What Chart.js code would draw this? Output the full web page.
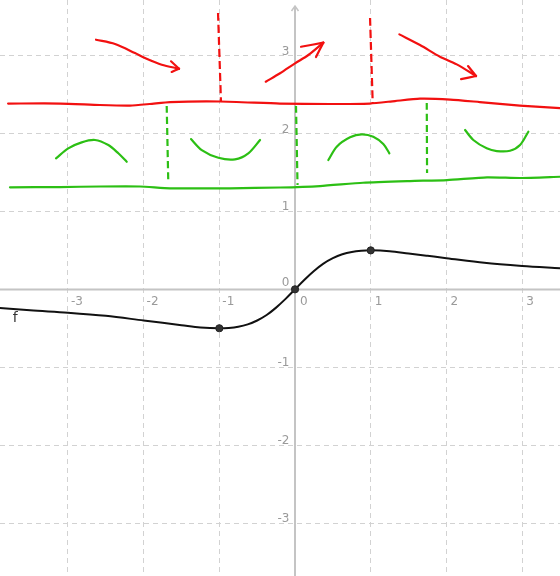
<!DOCTYPE html>
<html>
<head>
<meta charset="utf-8">
<script src="https://cdn.jsdelivr.net/npm/chart.js@4"></script>
<style>
  html, body { margin: 0; padding: 0; background: #fff; }
  canvas { display: block; }
</style>
</head>
<body>
<canvas id="chart-f" width="560" height="576"></canvas>
<script>
// view window (graph units)
const X_MIN = -3.897, X_MAX = 3.50;
const Y_MIN = -3.68,  Y_MAX = 3.714;

const X_TICKS = [-3, -2, -1, 0, 1, 2, 3];
const Y_TICKS = [-3, -2, -1, 0, 1, 2, 3];

// f
const F_X = [-3.9, -3.5, -3, -2.5, -2, -1.75, -1.5, -1.25, -1, -0.875, -0.75, -0.625, -0.5, -0.375, -0.25, -0.125, 0, 0.125, 0.25, 0.375, 0.5, 0.625, 0.75, 0.875, 1, 1.25, 1.5, 1.75, 2, 2.5, 3, 3.5];
const F_Y = [-0.24, -0.27, -0.30, -0.34, -0.40, -0.43, -0.46, -0.49, -0.50, -0.495, -0.48, -0.45, -0.40, -0.33, -0.235, -0.123, 0, 0.123, 0.235, 0.33, 0.40, 0.45, 0.48, 0.495, 0.50, 0.49, 0.46, 0.43, 0.40, 0.34, 0.30, 0.27];

// marked points on f
const MARK_X = [-1, 0, 1];
const MARK_Y = [-0.5, 0, 0.5];

// hand drawn strokes, [x, y] in graph units
const redBase = [[-3.79, 2.385], [-3.10, 2.385], [-2.58, 2.366], [-2.18, 2.359], [-1.92, 2.379], [-1.65, 2.404], [-0.99, 2.411], [-0.20, 2.385], [0.46, 2.379], [0.99, 2.385], [1.32, 2.417], [1.65, 2.447], [2.05, 2.436], [2.44, 2.404], [2.97, 2.359], [3.50, 2.327]];
const redDash1 = [[-1.017, 3.547], [-0.978, 2.404]];
const redDash2 = [[0.991, 3.483], [1.026, 2.392]];
const redArrow1 = [[-2.629, 3.204], [-2.378, 3.149], [-2.114, 3.033], [-1.982, 2.969], [-1.761, 2.883], [-1.532, 2.832]];
const redArrow1Head = [[[-1.638, 2.927], [-1.532, 2.832]], [[-1.629, 2.790], [-1.532, 2.832]]];
const redArrow2 = [[-0.387, 2.665], [-0.198, 2.773], [0, 2.901], [0.176, 3.008], [0.374, 3.166]];
const redArrow2Head = [[[0.079, 3.114], [0.374, 3.166]], [[0.277, 2.982], [0.374, 3.166]]];
const redArrow3 = [[1.378, 3.273], [1.651, 3.136], [1.915, 2.986], [2.136, 2.888], [2.391, 2.738]];
const redArrow3Head = [[[2.285, 2.866], [2.391, 2.738]], [[2.193, 2.699], [2.391, 2.738]]];

const greenBase = [[-3.765, 1.309], [-3.104, 1.313], [-2.576, 1.320], [-2.048, 1.320], [-1.651, 1.297], [-0.859, 1.297], [-0.198, 1.307], [0.330, 1.326], [0.898, 1.368], [1.519, 1.390], [2.008, 1.403], [2.536, 1.438], [2.972, 1.429], [3.501, 1.445]];
const greenDash1 = [[-1.695, 2.353], [-1.674, 1.365]];
const greenDash2 = [[0.013, 2.353], [0.033, 1.339]];
const greenDash3 = [[1.740, 2.392], [1.744, 1.493]];
const greenArc1 = [[-3.157, 1.682], [-2.995, 1.810], [-2.818, 1.887], [-2.642, 1.917], [-2.466, 1.852], [-2.334, 1.746], [-2.223, 1.638]];
const greenArc2 = [[-1.374, 1.929], [-1.232, 1.788], [-1.013, 1.689], [-0.793, 1.669], [-0.617, 1.746], [-0.462, 1.917]];
const greenArc3 = [[0.440, 1.660], [0.551, 1.831], [0.727, 1.951], [0.881, 1.990], [1.034, 1.959], [1.166, 1.865], [1.246, 1.746]];
const greenArc4 = [[2.246, 2.045], [2.355, 1.917], [2.532, 1.810], [2.665, 1.775], [2.840, 1.779], [2.972, 1.852], [3.082, 2.023]];

const F_LABEL = { text: 'f', x: -3.73, y: -0.415 };

const RED   = '#f21010';
const GREEN = '#2cbf14';
const GRID_COLOR  = '#d2d2d2';
const AXIS_COLOR  = '#c4c4c4';
const LABEL_COLOR = '#9a9a9a';

function pts(arr) { return arr.map(p => ({ x: p[0], y: p[1] })); }

function stroke(arr, color, opts = {}) {
  return {
    data: pts(arr),
    borderColor: color,
    borderWidth: opts.width || 2.2,
    borderDash: opts.dash || [],
    borderCapStyle: opts.dash ? 'butt' : 'round',
    borderJoinStyle: 'round',
    tension: opts.tension !== undefined ? opts.tension : 0.3,
    pointRadius: 0,
    fill: false,
  };
}

const geoAxes = {
  id: 'geoAxes',
  beforeDatasetsDraw(chart) {
    const { ctx, scales: { x, y } } = chart;
    const x0 = Math.round(x.getPixelForValue(0));
    const y0 = Math.round(y.getPixelForValue(0)) + 0.5;
    ctx.save();
    ctx.strokeStyle = AXIS_COLOR;
    ctx.lineWidth = 2;
    ctx.beginPath();
    ctx.moveTo(x.left, y0);   ctx.lineTo(x.right, y0);
    ctx.moveTo(x0, y.bottom); ctx.lineTo(x0, y.top + 7);
    ctx.stroke();
    ctx.lineWidth = 1.5;
    ctx.beginPath();
    ctx.moveTo(x0 - 3.5, y.top + 11); ctx.lineTo(x0, y.top + 6); ctx.lineTo(x0 + 3.5, y.top + 11);
    ctx.stroke();

    ctx.font = '12px "DejaVu Sans"';
    ctx.fillStyle = LABEL_COLOR;
    ctx.textBaseline = 'alphabetic';
    ctx.textAlign = 'left';
    X_TICKS.forEach(v => {
      const dx = v < 0 ? 3 : v === 0 ? 5 : 4;
      ctx.fillText(String(v), x.getPixelForValue(v) + dx, y0 + 15.5);
    });
    ctx.textAlign = 'right';
    Y_TICKS.forEach(v => {
      const dy = v === 0 ? 3 : 1;
      ctx.fillText(String(v), x0 - 5.5, y.getPixelForValue(v) - dy);
    });

    ctx.font = '14px "DejaVu Sans"';
    ctx.fillStyle = '#333';
    ctx.textAlign = 'left';
    ctx.fillText(F_LABEL.text, x.getPixelForValue(F_LABEL.x), y.getPixelForValue(F_LABEL.y));
    ctx.restore();
  },
};

const gridScale = (min, max) => ({
  type: 'linear', min, max,
  ticks: { display: false, stepSize: 1, includeBounds: false },
  grid: {
    drawTicks: false,
    lineWidth: 1,
    color: c => (c.tick && c.tick.value === 0 ? 'rgba(0,0,0,0)' : GRID_COLOR),
  },
  border: { display: false, dash: [5, 4] },
});

const datasets = [
  {
    data: MARK_X.map((v, i) => ({ x: v, y: MARK_Y[i] })),
    showLine: false,
    pointRadius: 3.6,
    pointBackgroundColor: '#333',
    pointBorderColor: '#222',
    pointBorderWidth: 1,
  },
  {
    data: F_X.map((v, i) => ({ x: v, y: F_Y[i] })),
    borderColor: '#111',
    borderWidth: 2,
    cubicInterpolationMode: 'monotone',
    pointRadius: 0,
    fill: false,
  },
  stroke(redBase, RED, { tension: 0.2 }),
  stroke(redDash1, RED, { dash: [8, 4] }),
  stroke(redDash2, RED, { dash: [8, 4] }),
  stroke(redArrow1, RED),
  ...redArrow1Head.map(h => stroke(h, RED)),
  stroke(redArrow2, RED),
  ...redArrow2Head.map(h => stroke(h, RED)),
  stroke(redArrow3, RED),
  ...redArrow3Head.map(h => stroke(h, RED)),
  stroke(greenBase, GREEN, { tension: 0.2 }),
  stroke(greenDash1, GREEN, { dash: [7, 4] }),
  stroke(greenDash2, GREEN, { dash: [7, 4] }),
  stroke(greenDash3, GREEN, { dash: [7, 4] }),
  stroke(greenArc1, GREEN),
  stroke(greenArc2, GREEN),
  stroke(greenArc3, GREEN),
  stroke(greenArc4, GREEN),
];

new Chart(document.getElementById('chart-f').getContext('2d'), {
  type: 'line',
  data: { datasets },
  options: {
    responsive: false,
    animation: false,
    layout: { padding: 0, autoPadding: false },
    plugins: { legend: { display: false }, tooltip: { enabled: false } },
    scales: { x: gridScale(X_MIN, X_MAX), y: gridScale(Y_MIN, Y_MAX) },
  },
  plugins: [geoAxes],
});
</script>
</body>
</html>
